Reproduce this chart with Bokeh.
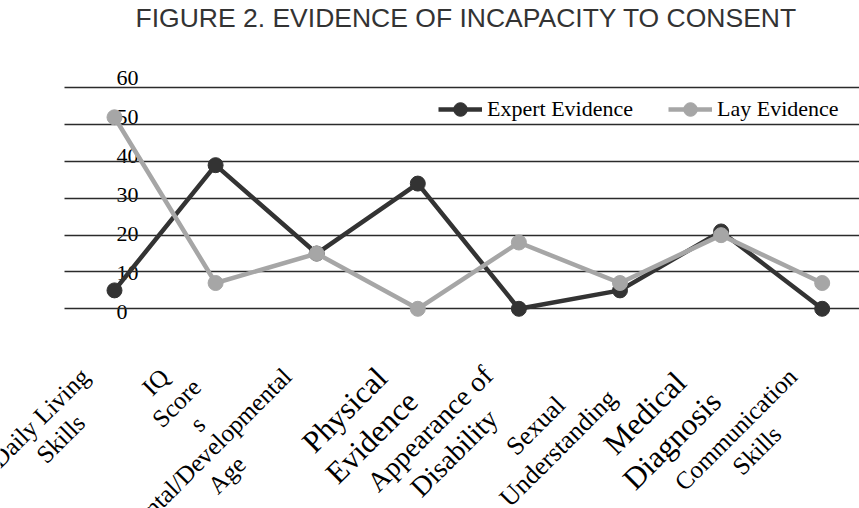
from bokeh.plotting import figure
from bokeh.models import (Range1d, LinearAxis, FixedTicker, Grid, Legend, LegendItem, Label)
from bokeh.embed import file_html
from bokeh.resources import INLINE

# ---- data ----
categories = ["Daily Living\nSkills", "IQ\nScore\ns", "Mental/Developmental\nAge",
              "Physical\nEvidence", "Appearance of\nDisability", "Sexual\nUnderstanding",
              "Medical\nDiagnosis", "Communication\nSkills"]
expert = [5, 39, 15, 34, 0, 5, 21, 0]
lay = [52, 7, 15, 0, 18, 7, 20, 7]
y_ticks = [0, 10, 20, 30, 40, 50, 60]
title_text = "FIGURE 2. EVIDENCE OF INCAPACITY TO CONSENT"
series_names = ["Expert Evidence", "Lay Evidence"]

# ---- style ----
dark = "#333333"
grey = "#a6a6a6"
serif = "Liberation Serif"
label_font_sizes = {"Physical\nEvidence": "31px", "Medical\nDiagnosis": "31px",
                    "Appearance of\nDisability": "28px", "Sexual\nUnderstanding": "26px"}

xs = list(range(len(categories)))
x_canvas_left = -1.1276
x_right = 7.369
x_plot_left = -0.4946   # where the gridlines begin

p = figure(width=859, height=508, output_backend="svg", toolbar_location=None,
           x_range=Range1d(x_canvas_left, x_right), y_range=Range1d(-54.22, 75.02),
           x_axis_location=None, y_axis_location=None,
           min_border_left=0, min_border_right=0, min_border_bottom=0, min_border_top=32)
p.outline_line_color = None
p.background_fill_color = "white"
p.border_fill_color = "white"
p.center = []

p.title.text = title_text
p.title.align = "left"
p.title.offset = 135
p.title.standoff = 0
p.title.text_font = "Liberation Sans"
p.title.text_font_size = "26.5px"
p.title.text_font_style = "normal"
p.title.text_color = "#333333"

# horizontal gridlines (start a little right of the canvas edge)
grid = Grid(dimension=1, ticker=FixedTicker(ticks=y_ticks), grid_line_color="#2b2b2b",
            grid_line_width=1.4, cross_bounds=(x_plot_left, x_right))
p.add_layout(grid, "center")

# y tick labels (sit inside the plot area)
p.extra_y_ranges = {"lbl": Range1d(-50.38, 71.67)}
yax = LinearAxis(y_range_name="lbl", ticker=FixedTicker(ticks=y_ticks),
                 axis_line_color=None, major_tick_line_color=None, minor_tick_line_color=None,
                 major_tick_in=0, major_tick_out=0, major_label_standoff=-743,
                 major_label_text_font=serif, major_label_text_font_size="22px",
                 major_label_text_color="black", level="underlay")
p.add_layout(yax, "right")

# series
el = p.line(xs, expert, line_color=dark, line_width=4.5)
ec = p.scatter(xs, expert, size=15, fill_color=dark, line_color=dark)
ll = p.line(xs, lay, line_color=grey, line_width=4.5)
lc = p.scatter(xs, lay, size=15, fill_color=grey, line_color=grey)

legend = Legend(items=[LegendItem(label=series_names[0], renderers=[el, ec]),
                       LegendItem(label=series_names[1], renderers=[ll, lc])],
                orientation="horizontal", location=(438, 382),
                label_text_font=serif, label_text_font_size="22px", label_text_color="black",
                glyph_width=44, glyph_height=34, label_standoff=5, spacing=35,
                padding=0, margin=0, background_fill_alpha=0, border_line_alpha=0)
p.add_layout(legend, "center")

# category labels
for i, cat in enumerate(categories):
    lab = Label(x=xs[i], y=0, x_offset=-19, y_offset=-74, text=cat, angle=45, angle_units="deg",
                text_align="center", text_baseline="middle", anchor="center_right",
                text_font=serif, text_font_size=label_font_sizes.get(cat, "25px"),
                text_color="black", text_line_height=1.1)
    p.add_layout(lab)

open("out.html", "w").write(file_html(p, INLINE))
